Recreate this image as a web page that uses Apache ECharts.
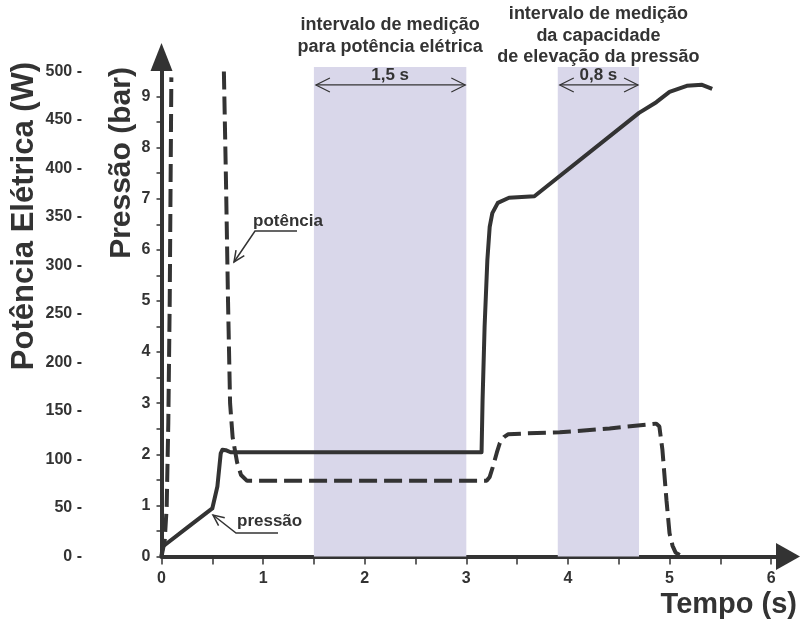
<!DOCTYPE html>
<html><head><meta charset="utf-8">
<script src="https://cdn.jsdelivr.net/npm/echarts@6/dist/echarts.min.js"></script>
<style>html,body{margin:0;padding:0;background:#fff}#c{width:801px;height:624px}</style>
</head><body><div id="c"></div>
<script>
// ---- data ----
const timeLabels = [0, 1, 2, 3, 4, 5, 6];
const timeTicks = [0, 0.5, 1, 1.5, 2, 2.5, 3, 3.5, 4, 4.5, 5, 5.5, 6];
const pressureLabels = [0, 1, 2, 3, 4, 5, 6, 7, 8, 9];
const pressureTicks = [0, 0.5, 1, 1.5, 2, 2.5, 3, 3.5, 4, 4.5, 5, 5.5, 6, 6.5, 7, 7.5, 8, 8.5, 9];
const powerLabels = [0, 50, 100, 150, 200, 250, 300, 350, 400, 450, 500];

const pressureData = [
  [0, 0], [0.01, 0.19], [0.25, 0.56], [0.5, 0.94], [0.55, 1.37], [0.583, 2.02], [0.6, 2.09],
  [0.616, 2.10], [0.632, 2.08], [0.68, 2.04], [3.15, 2.04], [3.16, 3.06], [3.18, 4.5],
  [3.207, 5.8], [3.23, 6.45], [3.256, 6.72], [3.31, 6.92], [3.42, 7.02], [3.67, 7.05],
  [4.70, 8.68], [4.87, 8.89], [5.0, 9.09], [5.17, 9.21], [5.32, 9.23], [5.42, 9.15]
];
const powerData = [
  [0, 0], [0.032, 17], [0.051, 51], [0.067, 138], [0.081, 264], [0.097, 494], [0.35, '-'],
  [0.614, 500], [0.635, 385], [0.655, 262], [0.675, 158], [0.70, 123], [0.744, 97], [0.783, 84],
  [0.842, 78], [3.2, 78], [3.23, 82], [3.26, 92], [3.3, 107], [3.33, 117], [3.37, 123], [3.41, 126],
  [3.6, 127], [3.92, 128], [4.41, 132], [4.87, 137], [4.9, 134], [4.93, 110], [4.97, 58],
  [5.0, 24], [5.03, 11], [5.06, 4], [5.1, 1.5]
];
const bands = [[1.5, 3.0], [3.9, 4.7]];
const bandLabels = ['1,5 s', '0,8 s'];
const bandTitles = ['intervalo de medição\npara potência elétrica',
                    'intervalo de medição\nda capacidade\nde elevação da pressão'];
const bandTop = 9.58; // bar

// ---- style ----
const INK = '#333333';
const FF = "'Liberation Sans', Arial, sans-serif";
const chart = echarts.init(document.getElementById('c'), null, {renderer: 'canvas'});

chart.setOption({
  animation: false,
  backgroundColor: '#ffffff',
  grid: {left: 161.5, right: 13, top: 57, bottom: 67.5, containLabel: false, outerBoundsMode: 'none'},
  xAxis: {
    type: 'value', min: 0, max: 6.166,
    splitLine: {show: false},
    axisLine: {show: true, onZero: false, lineStyle: {color: INK, width: 4},
      symbol: ['none', 'triangle'], symbolSize: [27, 24]},
    axisTick: {show: true, customValues: timeTicks, length: 8, lineStyle: {color: INK, width: 1.5}},
    axisLabel: {customValues: timeLabels, margin: 14, color: INK, fontSize: 16, fontWeight: 'bold', fontFamily: FF}
  },
  yAxis: [
    {
      type: 'value', min: 0, max: 9.774, position: 'left',
      splitLine: {show: false},
      axisLine: {show: true, onZero: false, lineStyle: {color: INK, width: 4},
        symbol: ['none', 'triangle'], symbolSize: [22, 28]},
      axisTick: {show: true, customValues: pressureTicks, length: 5, lineStyle: {color: INK, width: 1.5}},
      axisLabel: {customValues: pressureLabels, margin: 11, color: INK, fontSize: 16, fontWeight: 'bold', fontFamily: FF}
    },
    {
      type: 'value', min: 0, max: 515, position: 'left',
      splitLine: {show: false},
      axisLine: {show: false},
      axisTick: {show: false},
      axisLabel: {customValues: powerLabels, margin: 79.5, color: INK, fontSize: 16, fontWeight: 'bold', fontFamily: FF,
        formatter: v => v + ' -'}
    }
  ],
  series: [
    {
      name: 'pressão', type: 'line', yAxisIndex: 0, data: pressureData,
      showSymbol: false, symbol: 'none', smooth: false, z: 3,
      lineStyle: {color: INK, width: 4, join: 'round'},
      markArea: {
        silent: true, itemStyle: {color: '#d9d7ea'},
        data: bands.map(b => [{xAxis: b[0], yAxis: 0}, {xAxis: b[1], yAxis: bandTop}])
      }
    },
    {
      name: 'potência', type: 'line', yAxisIndex: 1, data: powerData,
      showSymbol: false, symbol: 'none', smooth: false, connectNulls: false, z: 3,
      lineStyle: {color: INK, width: 4, type: [18, 7], cap: 'butt'}
    }
  ]
});

// ---- annotations ----
function openHead(tip, angle, len, half) {
  // angle: direction the arrow points (radians, screen coords)
  const bx = tip[0] - Math.cos(angle) * len, by = tip[1] - Math.sin(angle) * len;
  const nx = -Math.sin(angle) * half, ny = Math.cos(angle) * half;
  return [[bx + nx, by + ny], tip, [bx - nx, by - ny]];
}
const graphics = [];
const txt = (x, y, text, size, align, extra) => Object.assign({
  type: 'text', x: x, y: y, z: 50,
  style: {text: text, font: 'bold ' + size + 'px ' + FF, fill: INK, align: align || 'center', verticalAlign: 'middle'}
}, extra || {});
const line = (pts, w) => ({type: 'polyline', z: 50, shape: {points: pts}, style: {stroke: INK, lineWidth: w || 1.3, fill: null}});

bands.forEach((b, i) => {
  const p1 = chart.convertToPixel({xAxisIndex: 0, yAxisIndex: 0}, [b[0], bandTop]);
  const p2 = chart.convertToPixel({xAxisIndex: 0, yAxisIndex: 0}, [b[1], bandTop]);
  const ay = p1[1] + 18;
  const cx = (p1[0] + p2[0]) / 2;
  graphics.push(line([[p1[0] + 2, ay], [p2[0] - 1, ay]], 1.2));
  graphics.push(line(openHead([p1[0] + 2, ay], Math.PI, 14, 7), 1.2));
  graphics.push(line(openHead([p2[0] - 1, ay], 0, 14, 7), 1.2));
  graphics.push(txt(cx, p1[1] + 8, bandLabels[i], 17));
  const t = txt(cx, 36, bandTitles[i], 18);
  t.style.lineHeight = 21.5;
  graphics.push(t);
});

// axis titles
graphics.push(txt(24, 216, 'Potência Elétrica (W)', 31, 'center', {rotation: Math.PI / 2}));
graphics.push(txt(122, 163, 'Pressão (bar)', 30, 'center', {rotation: Math.PI / 2}));
graphics.push(txt(797, 605, 'Tempo (s)', 29, 'right'));

// series call-outs
graphics.push(txt(253, 221, 'potência', 17, 'left'));
graphics.push(line([[297, 231], [255, 231], [234, 262]], 1.5));
graphics.push(line(openHead([234, 262], Math.atan2(262 - 231, 234 - 255), 11, 5), 1.5));
graphics.push(txt(237, 521, 'pressão', 17, 'left'));
graphics.push(line([[278, 533], [236, 533], [213, 515]], 1.5));
graphics.push(line(openHead([213, 515], Math.atan2(515 - 533, 213 - 236), 11, 5), 1.5));

chart.setOption({graphic: graphics});
</script></body></html>
